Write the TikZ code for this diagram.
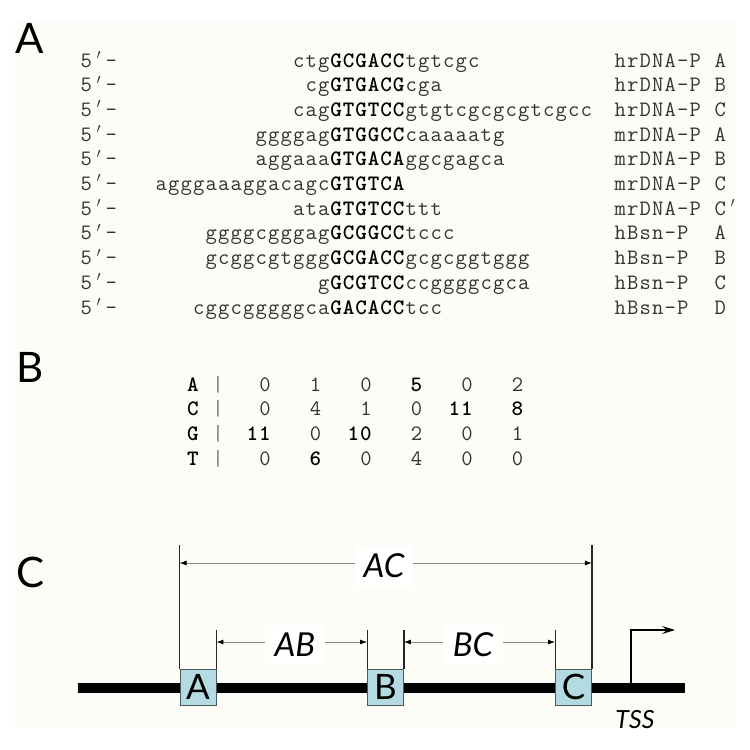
\documentclass[tikz,border=0pt]{standalone}
\usepackage{fontspec}
\setmainfont{Lato}
\usetikzlibrary{arrows.meta}
\definecolor{cream}{HTML}{FDFCF7}
\definecolor{boxblue}{HTML}{B3DBE1}
\definecolor{boxedge}{HTML}{4A5A5E}
\definecolor{seqgray}{HTML}{333333}
\definecolor{dimgray}{HTML}{8A8A8A}
% monospaced cells of 12.5pt
\newcommand{\sqf}{\ttfamily\fontsize{22pt}{26pt}\fontseries{m}\selectfont}
\newcommand{\cell}[1]{\makebox[12.5pt][c]{#1}}
\def\mono#1{\monoloop#1\relax}
\def\monoloop#1{\ifx#1\relax\else\cell{#1}\expandafter\monoloop\fi}
\newcommand{\monox}[1]{\expandafter\mono\expandafter{#1}}
\newcommand{\bb}[1]{{\fontseries{b}\selectfont\color{black}\monox{#1}}}
\newcommand{\fiveprime}{\cell{5}\cell{$'$}\cell{–}}
\tikzset{
  seq/.style={anchor=base west, inner sep=0pt, outer sep=0pt, font=\sqf, text=seqgray},
  num/.style={anchor=base east, inner sep=0pt, outer sep=0pt, font=\sqf, text=seqgray},
  mlet/.style={anchor=base, inner sep=0pt, outer sep=0pt, font=\sqf, text=black},
  panel/.style={anchor=base west, inner sep=0pt, font=\fontsize{42pt}{48pt}\selectfont},
  sitebox/.style={draw=boxedge, fill=boxblue, line width=0.9pt, minimum width=36pt, minimum height=36pt, inner sep=0pt, font=\fontsize{35pt}{40pt}\selectfont},
  dimlabel/.style={fill=white, inner sep=0pt, minimum height=40pt, font=\fontsize{33pt}{36pt}\selectfont\itshape},
  dim/.style={draw=dimgray, line width=0.8pt, -{Latex[length=7pt,width=5pt,color=black]}},
  siteline/.style={draw=black!85, line width=1.1pt},
  dnaline/.style={draw=black, line width=10pt},
  tssarrow/.style={draw=black, line width=1.2pt, -{Stealth[length=13pt,width=8pt,inset=5pt]}},
}
\begin{document}
\begin{tikzpicture}[x=1pt,y=-1pt]
\useasboundingbox (0,0) rectangle (750,750);
\fill[white] (0,0) rectangle (750,750);
\fill[cream] (15,22) rectangle (736,727);

% ---------- Panel A ----------
\node[panel] (pA) at (15,53) {A};
\foreach \ri/\rn/\rpre/\rcore/\rsuf/\rlab/\rlet in {
  0/3/ctg/GCGACC/tgtcgc/hrDNA-P/A,
  1/2/cg/GTGACG/cga/hrDNA-P/B,
  2/3/cag/GTGTCC/gtgtcgcgcgtcgcc/hrDNA-P/C,
  3/6/ggggag/GTGGCC/caaaaatg/mrDNA-P/A,
  4/6/aggaaa/GTGACA/ggcgagca/mrDNA-P/B,
  5/14/agggaaaggacagc/GTGTCA/{}/mrDNA-P/C,
  7/10/ggggcgggag/GCGGCC/tccc/hBsn-P/A,
  8/10/gcggcgtggg/GCGACC/gcgcggtggg/hBsn-P/B,
  9/1/g/GCGTCC/ccggggcgca/hBsn-P/C,
  10/11/cggcgggggca/GACACC/tcc/hBsn-P/D}
{
  \pgfmathsetmacro{\yy}{67+24.7*\ri}
  \pgfmathsetmacro{\xx}{330-12.5*\rn}
  \node[seq] (five\ri) at (80,\yy) {\fiveprime};
  \node[seq] (row\ri) at (\xx,\yy) {\monox{\rpre}\bb{\rcore}\monox{\rsuf}};
  \node[seq] (lab\ri) at (614,\yy) {\monox{\rlab}};
  \node[seq] (let\ri) at (714,\yy) {\monox{\rlet}};
}
% row with C-prime label
\node[seq] (five6) at (80,{67+24.7*6}) {\fiveprime};
\node[seq] (row6) at ({330-12.5*3},{67+24.7*6}) {\mono{ata}\bb{GTGTCC}\mono{ttt}};
\node[seq] (lab6) at (614,{67+24.7*6}) {\mono{mrDNA-P}};
\node[seq] (let6) at (714,{67+24.7*6}) {\cell{C}\cell{$'$}};

% ---------- Panel B ----------
\node[panel] (pB) at (16,382) {B};
\foreach \mi/\mL/\va/\vb/\vc/\vd/\ve/\vf in {
  0/A/\mono{0}/\mono{1}/\mono{0}/\bb{5}/\mono{0}/\mono{2},
  1/C/\mono{0}/\mono{4}/\mono{1}/\mono{0}/\bb{11}/\bb{8},
  2/G/\bb{11}/\mono{0}/\bb{10}/\mono{2}/\mono{0}/\mono{1},
  3/T/\mono{0}/\bb{6}/\mono{0}/\mono{4}/\mono{0}/\mono{0}}
{
  \pgfmathsetmacro{\yy}{391+24.7*\mi}
  \node[mlet] (m\mi) at (193,\yy) {\bb{\mL}};
  \node[seq, anchor=base, text=black!55] (bar\mi) at (218,\yy) {\cell{|}};
  \node[num] (n\mi a) at (271.25,\yy) {\va};
  \node[num] (n\mi b) at (321.75,\yy) {\vb};
  \node[num] (n\mi c) at (372.25,\yy) {\vc};
  \node[num] (n\mi d) at (422.75,\yy) {\vd};
  \node[num] (n\mi e) at (473.25,\yy) {\ve};
  \node[num] (n\mi f) at (523.75,\yy) {\vf};
}

% ---------- Panel C ----------
\node[panel] (pC) at (16,587) {C};
\coordinate (L0) at (78,688);
\coordinate (L1) at (685,688);
\draw[dnaline] (L0) -- (L1);
\node[sitebox] (bA) at (198,687) {\raisebox{-2.5pt}{A}};
\node[sitebox] (bB) at (385.5,687) {\raisebox{-2.5pt}{B}};
\node[sitebox] (bC) at (573.5,687) {\raisebox{-2.5pt}{C}};

\draw[siteline] (bA.north west) -- ++(0,-124);
\draw[siteline] (bA.north east) -- ++(0,-39);
\draw[siteline] (bB.north west) -- ++(0,-39);
\draw[siteline] (bB.north east) -- ++(0,-39);
\draw[siteline] (bC.north west) -- ++(0,-39);
\draw[siteline] (bC.north east) -- ++(0,-124);

\node[dimlabel, minimum width=58pt] (AC) at (384,566) {AC};
\node[dimlabel, minimum width=60pt] (AB) at (295,645) {AB};
\node[dimlabel, minimum width=60pt] (BC) at (473,645) {BC};

\draw[dim] ([yshift=3pt]AC.west) -- ([yshift=3pt]AC.west -| bA.north west);
\draw[dim] ([yshift=3pt]AC.east) -- ([yshift=3pt]AC.east -| bC.north east);
\draw[dim] ([yshift=3pt]AB.west) -- ([yshift=3pt]AB.west -| bA.north east);
\draw[dim] ([yshift=3pt]AB.east) -- ([yshift=3pt]AB.east -| bB.north west);
\draw[dim] ([yshift=3pt]BC.west) -- ([yshift=3pt]BC.west -| bB.north east);
\draw[dim] ([yshift=3pt]BC.east) -- ([yshift=3pt]BC.east -| bC.north west);

\coordinate (tss) at (631,688);
\draw[tssarrow] (tss) -- ++(0,-58) -- ++(44,0);
\node[anchor=base, inner sep=0pt, font=\fontsize{25pt}{28pt}\selectfont\itshape] (tsslab) at (635,728) {TSS};
\end{tikzpicture}
\end{document}
